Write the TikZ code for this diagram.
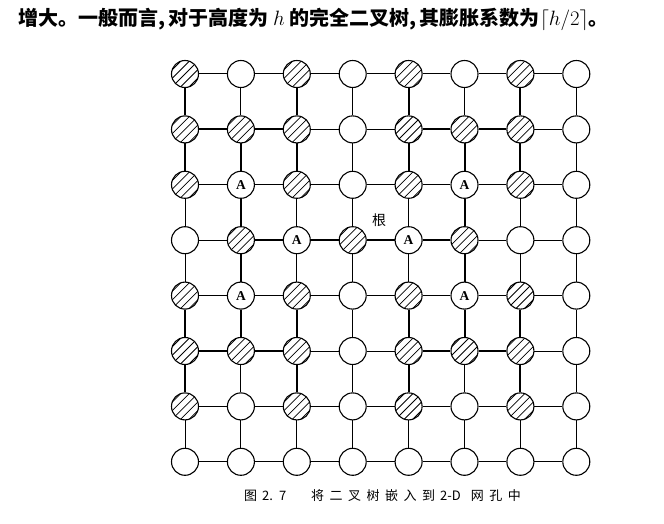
\documentclass[tikz,border=0pt]{standalone}
\usepackage{fontspec}
\newfontfamily\cjk{Noto Sans CJK SC}
\newfontfamily\aserif{Liberation Serif}
\begin{document}
\begin{tikzpicture}[x=1pt,y=-1pt,
  gnode/.style={circle,draw,line width=1.1pt,minimum size=27pt,inner sep=0pt,fill=white,
    font=\aserif\bfseries\fontsize{13.5}{14}\selectfont},
  hatch/.style={path picture={\foreach \k in {-3,...,3}{\draw[line width=0.75pt]
      ([shift={(\k*8.5pt-20pt,-20pt)}]path picture bounding box.center) -- ++(40pt,40pt);}}},
  gedge/.style={line width=1pt},
  tedge/.style={line width=2pt}]
\useasboundingbox (0,0) rectangle (664,524);
% hatched nodes
\foreach \r/\c in {0/0,0/2,0/4,0/6,
  1/0,1/1,1/2,1/4,1/5,1/6,
  2/0,2/2,2/4,2/6,
  3/1,3/3,3/5,
  4/0,4/2,4/4,4/6,
  5/0,5/1,5/2,5/4,5/5,5/6,
  6/0,6/2,6/4,6/6}
  \node[gnode,hatch] (n\r\c) at ({185+55.9*\c},{74+55.4*\r}) {};
% A nodes
\foreach \r/\c in {2/1,2/5,3/2,3/4,4/1,4/5}
  \node[gnode] (n\r\c) at ({185+55.9*\c},{74+55.4*\r}) {A};
% empty nodes
\foreach \r/\c in {0/1,0/3,0/5,0/7,
  1/3,1/7, 2/3,2/7, 3/0,3/6,3/7, 4/3,4/7, 5/3,5/7,
  6/1,6/3,6/5,6/7,
  7/0,7/1,7/2,7/3,7/4,7/5,7/6,7/7}
  \node[gnode] (n\r\c) at ({185+55.9*\c},{74+55.4*\r}) {};
% grid edges
\foreach \r in {0,...,7}{
  \foreach \c in {0,...,6}{
    \pgfmathtruncatemacro{\nx}{\c+1}
    \draw[gedge] (n\r\c) -- (n\r\nx);
    \draw[gedge] (n\c\r) -- (n\nx\r);}}
% tree edges
\foreach \ea/\eb in {n00/n10,n10/n20,n10/n11,n11/n12,n02/n12,n12/n22,n11/n21,n21/n31,n31/n32,n32/n33,
  n31/n41,n41/n51,n50/n51,n51/n52,n40/n50,n50/n60,n42/n52,n52/n62,
  n33/n34,n34/n35,n25/n35,n15/n25,n14/n15,n15/n16,n04/n14,n14/n24,n06/n16,n16/n26,
  n35/n45,n45/n55,n54/n55,n55/n56,n44/n54,n54/n64,n46/n56,n56/n66}
  \draw[tedge] (\ea) -- (\eb);
% root label
\node[font=\cjk\fontsize{14}{15}\selectfont] (root) at (379,220) {根};
% top text
\node[anchor=west,inner sep=0pt,font=\cjk\bfseries\fontsize{20}{22}\selectfont] (top) at (18,19)
  {增大。一般而言,\,对于高度为 $h$ 的完全二叉树,\,其膨胀系数为$\lceil h/2\rceil$。};
% caption
\node[anchor=west,inner sep=0pt,font=\cjk\fontsize{13}{15}\selectfont] (cap) at (244,496)
  {图\hspace{5pt}2.\hspace{6pt}7\hspace{25pt}将\hspace{5.5pt}二\hspace{5.5pt}叉\hspace{5.5pt}树\hspace{5.5pt}嵌\hspace{5.5pt}入\hspace{5.5pt}到\hspace{5pt}2-D\hspace{10pt}网\hspace{5.5pt}孔\hspace{5.5pt}中};
\end{tikzpicture}
\end{document}
